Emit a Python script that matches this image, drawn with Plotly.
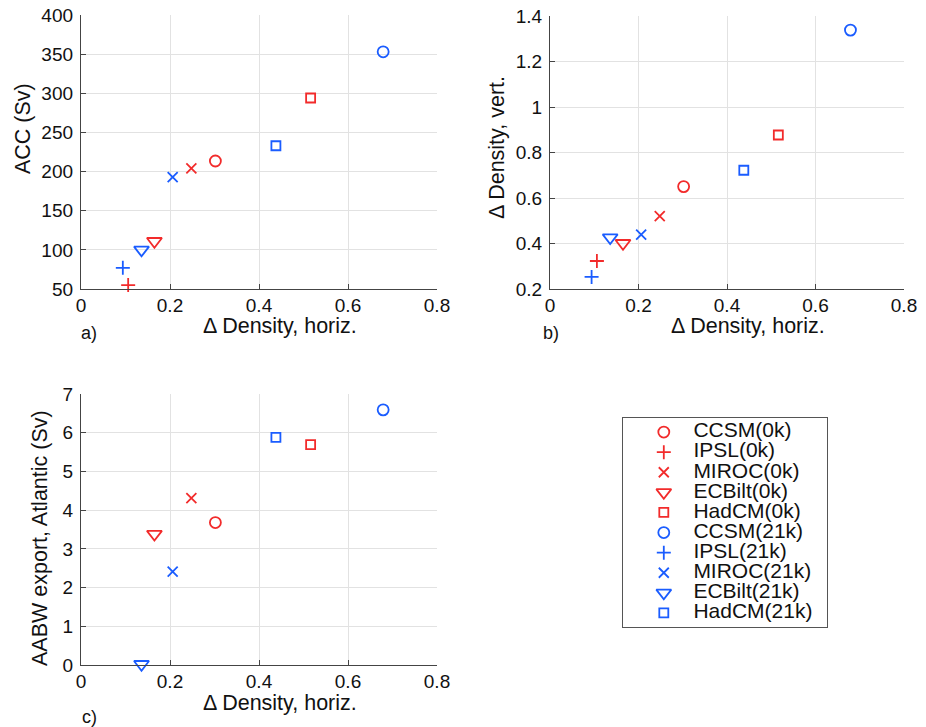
import plotly.graph_objects as go

# ---- data ----
models = ["CCSM(0k)", "IPSL(0k)", "MIROC(0k)", "ECBilt(0k)", "HadCM(0k)",
          "CCSM(21k)", "IPSL(21k)", "MIROC(21k)", "ECBilt(21k)", "HadCM(21k)"]
dens_horiz = [0.302, 0.106, 0.248, 0.165, 0.516, 0.679, 0.094, 0.206, 0.136, 0.438]
acc = [213.5, 55, 204, 111, 294, 353, 77, 193, 100, 233]
dens_vert = [0.650, 0.323, 0.520, 0.401, 0.877, 1.338, 0.253, 0.439, 0.426, 0.722]
aabw = [3.68, None, 4.31, 3.38, 5.69, 6.59, None, 2.41, 0.02, 5.88]
xtick_vals = [0, 0.2, 0.4, 0.6, 0.8]
xtick_text = ["0", "0.2", "0.4", "0.6", "0.8"]

symbols = ["circle-open", "cross-thin-open", "x-thin-open", "triangle-down-open", "square-open"] * 2
sizes = [11, 10, 10, 13, 9] * 2
RED = "#f22b2b"
BLUE = "#1a5cff"
colors = [RED] * 5 + [BLUE] * 5

# page body has an 8px margin; figure sized to fill the rest of the window
OFF = 8
W, H = 926 - OFF, 727 - OFF
FONT = "Liberation Sans, Arial, sans-serif"
def px(x):
    return (x - OFF) / W
def py(y):
    return 1 - (y - OFF) / H

fig = go.Figure()

panels = [("x", "y", acc), ("x2", "y2", dens_vert), ("x3", "y3", aabw)]
for xa, ya, vals in panels:
    for i, m in enumerate(models):
        fig.add_trace(go.Scatter(
            x=[dens_horiz[i]], y=[vals[i]], mode="markers", name=m,
            showlegend=False, xaxis=xa, yaxis=ya,
            marker=dict(symbol=symbols[i], size=sizes[i], color=colors[i],
                        line=dict(color=colors[i], width=1.8)),
            cliponaxis=False,
        ))

# legend drawn in its own small axis box
for i, m in enumerate(models):
    fig.add_trace(go.Scatter(
        x=[0.2], y=[m], mode="markers", showlegend=False, xaxis="x4", yaxis="y4",
        marker=dict(symbol=symbols[i], size=sizes[i], color=colors[i],
                    line=dict(color=colors[i], width=1.8)),
        cliponaxis=False, hoverinfo="skip"))
fig.add_trace(go.Scatter(
    x=[0.345] * len(models), y=models, mode="text", text=models,
    textposition="middle right", showlegend=False, xaxis="x4", yaxis="y4",
    textfont=dict(family=FONT, size=21, color="#111"), cliponaxis=False, hoverinfo="skip"))

tickfont = dict(family=FONT, size=19, color="#111")
common = dict(showline=True, linecolor="#444", linewidth=1.3, mirror=False,
              ticks="inside", ticklen=5, tickcolor="#444", tickwidth=1,
              showgrid=True, gridcolor="#e2e2e2", gridwidth=1,
              zeroline=False, tickfont=tickfont, automargin=False,
              ticklabeloverflow="allow")
xc = dict(common, ticklabelstandoff=-1)
yc = dict(common, ticklabelstandoff=3)

fig.update_layout(
    width=W, height=H, margin=dict(l=0, r=0, t=0, b=0, autoexpand=False),
    paper_bgcolor="white", plot_bgcolor="white",
    font=dict(family=FONT, color="#111"),
    xaxis=dict(domain=[px(81), px(437)], range=[0, 0.8], tickvals=xtick_vals,
               ticktext=xtick_text, anchor="y", **xc),
    yaxis=dict(domain=[py(289), py(15)], range=[50, 400],
               tickvals=[50, 100, 150, 200, 250, 300, 350, 400], anchor="x", **yc),
    xaxis2=dict(domain=[px(550), px(904)], range=[0, 0.8], tickvals=xtick_vals,
                ticktext=xtick_text, anchor="y2", **xc),
    yaxis2=dict(domain=[py(289), py(16)], range=[0.2, 1.4],
                tickvals=[0.2, 0.4, 0.6, 0.8, 1.0, 1.2, 1.4],
                ticktext=["0.2", "0.4", "0.6", "0.8", "1", "1.2", "1.4"], anchor="x2", **yc),
    xaxis3=dict(domain=[px(81), px(437)], range=[0, 0.8], tickvals=xtick_vals,
                ticktext=xtick_text, anchor="y3", **xc),
    yaxis3=dict(domain=[py(665), py(394)], range=[0, 7],
                tickvals=[0, 1, 2, 3, 4, 5, 6, 7], anchor="x3", **yc),
    xaxis4=dict(domain=[px(623), px(827)], range=[0, 1], anchor="y4",
                showline=True, mirror=True, linecolor="#555", linewidth=1,
                showgrid=False, zeroline=False, showticklabels=False, ticks="",
                automargin=False, fixedrange=True),
    yaxis4=dict(domain=[py(627), py(418)], type="category", categoryorder="array",
                categoryarray=models, range=[9.7, -0.7], anchor="x4",
                showline=True, mirror=True, linecolor="#555", linewidth=1,
                showgrid=False, zeroline=False, showticklabels=False, ticks="",
                automargin=False, fixedrange=True),
    showlegend=False,
)

tf = dict(family=FONT, size=21.5, color="#111")
ann = [
    ("Δ Density, horiz.", 280, 326, 0),
    ("ACC (Sv)", 23, 129, -90),
    ("Δ Density, horiz.", 748, 326, 0),
    ("Δ Density, vert.", 497, 148, -90),
    ("Δ Density, horiz.", 280, 703, 0),
    ("AABW export, Atlantic (Sv)", 40, 538, -90),
]
for text, x, y, ang in ann:
    fig.add_annotation(text=text, x=px(x), y=py(y), xref="paper", yref="paper",
                       showarrow=False, textangle=ang, font=tf,
                       xanchor="center", yanchor="middle")
for text, x, y in [("a)", 89, 333), ("b)", 551, 333), ("c)", 89, 717)]:
    fig.add_annotation(text=text, x=px(x), y=py(y), xref="paper", yref="paper",
                       showarrow=False, font=dict(family=FONT, size=18, color="#111"),
                       xanchor="center", yanchor="middle")

fig.write_html("out.html")
